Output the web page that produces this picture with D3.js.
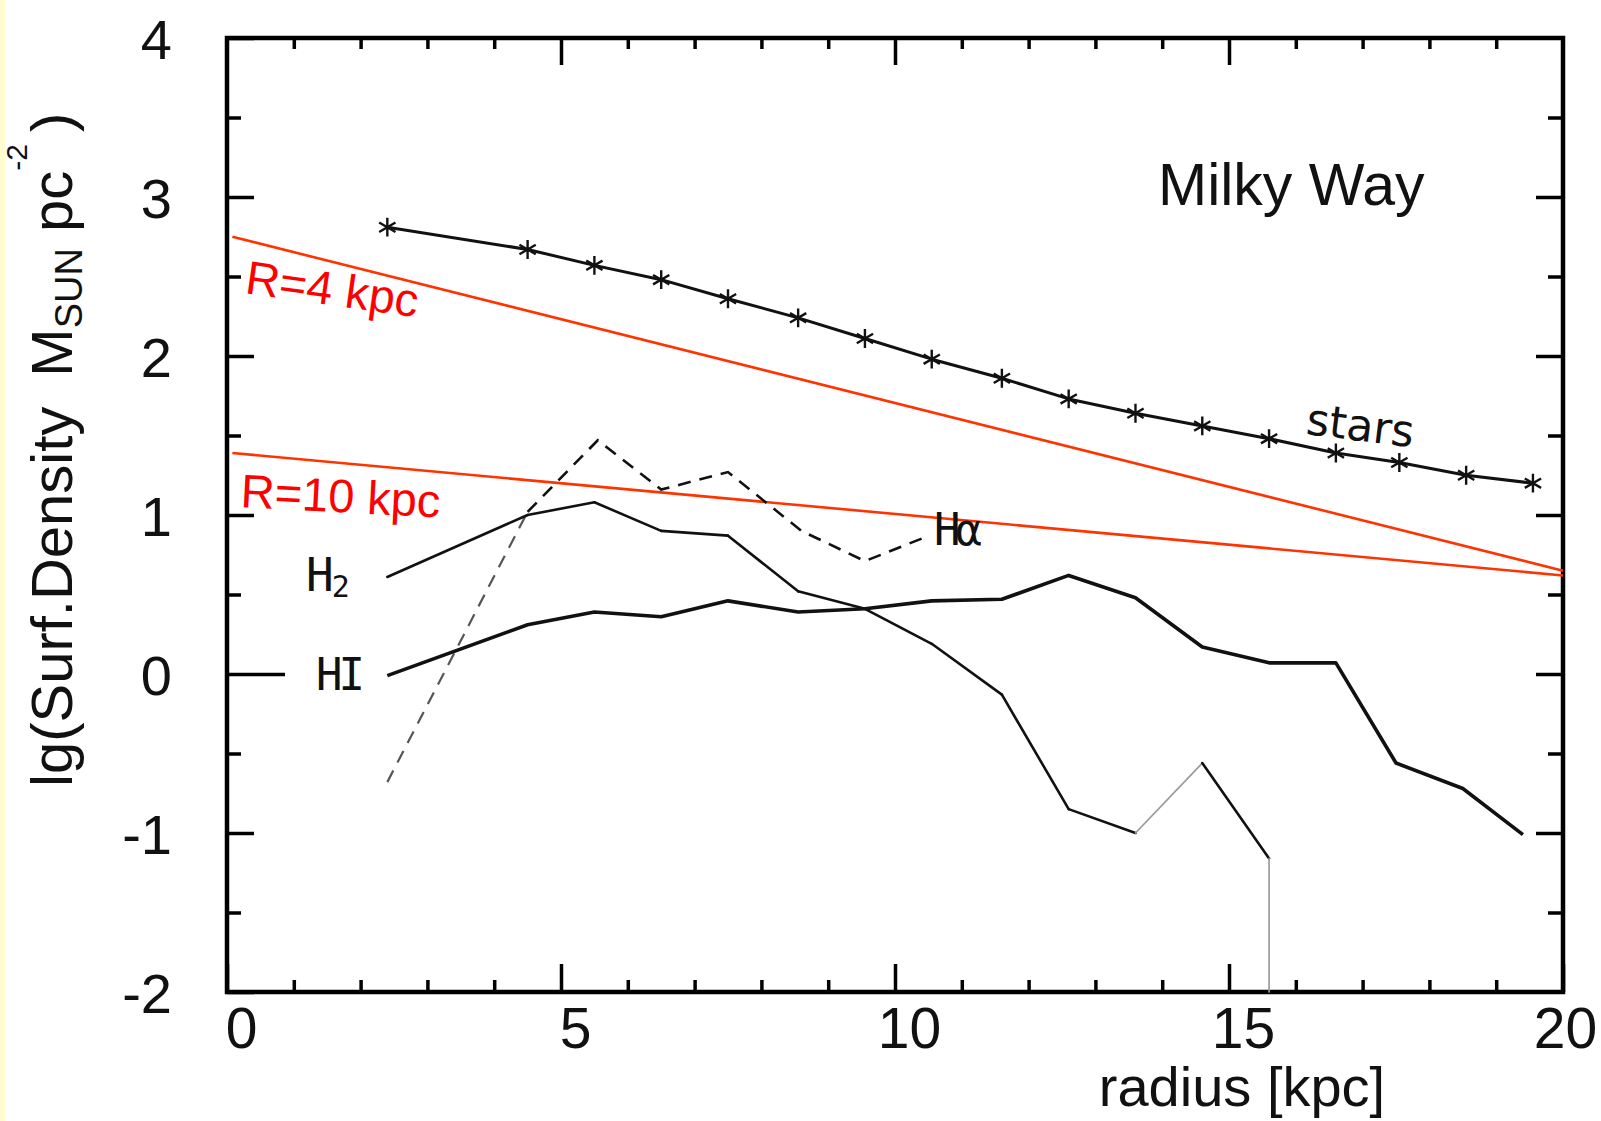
<!DOCTYPE html>
<html>
<head>
<meta charset="utf-8">
<script src="https://cdn.jsdelivr.net/npm/d3@7"></script>
<style>
  html, body { margin: 0; padding: 0; background: #ffffff; }
  svg { display: block; }
</style>
</head>
<body>
<svg id="chart" width="1601" height="1121"></svg>
<script>
// ---------------- data ----------------
const radius      = [2.4, 4.5, 5.5, 6.5, 7.5, 8.55, 9.55, 10.55, 11.6, 12.6, 13.6, 14.6, 15.6, 16.6, 17.55, 18.55, 19.55];
const starsLg     = [2.81, 2.67, 2.57, 2.48, 2.36, 2.24, 2.11, 1.98, 1.86, 1.73, 1.64, 1.56, 1.48, 1.39, 1.33, 1.25, 1.20];
const hiRadius    = [2.4, 4.5, 5.5, 6.5, 7.5, 8.55, 9.55, 10.55, 11.6, 12.6, 13.6, 14.6, 15.6, 16.6, 17.5, 18.5, 19.4];
const hiLg        = [-0.01, 0.31, 0.39, 0.36, 0.46, 0.39, 0.41, 0.46, 0.47, 0.62, 0.48, 0.17, 0.07, 0.07, -0.56, -0.72, -1.01];
const h2Radius    = [2.4, 4.5, 5.5, 6.5, 7.5, 8.55, 9.55, 10.55, 11.6, 12.6, 13.6, 14.6, 15.6, 15.6];
const h2Lg        = [0.61, 1.00, 1.08, 0.90, 0.87, 0.52, 0.41, 0.19, -0.13, -0.85, -1.00, -0.56, -1.16, -2.0];
const haRadius    = [2.4, 4.5, 5.55, 6.5, 7.5, 8.6, 9.55, 10.45];
const haLg        = [-0.68, 1.02, 1.47, 1.16, 1.27, 0.90, 0.71, 0.86];
const modelRadius = [0.08, 20];
const modelR4     = [2.75, 0.65];
const modelR10    = [1.39, 0.62];

const xMajor = [0, 5, 10, 15, 20];
const xMinor = [1, 2, 3, 4, 6, 7, 8, 9, 11, 12, 13, 14, 16, 17, 18, 19];
const yMajor = [-2, -1, 0, 1, 2, 3, 4];
const yMinor = [-1.5, -0.5, 0.5, 1.5, 2.5, 3.5];

// ---------------- setup ----------------
const svg = d3.select("#chart");
const FONT = "'Liberation Sans', Arial, Helvetica, sans-serif";
const HAND = "'DejaVu Sans Mono', monospace";

svg.append("rect").attr("x", 0).attr("y", 0).attr("width", 1601).attr("height", 1121).attr("fill", "#ffffff");
svg.append("rect").attr("x", 0).attr("y", 0).attr("width", 5).attr("height", 1121).attr("fill", "#fdfdcf");

const x = d3.scaleLinear().domain([0, 20]).range([227, 1563]);
const y = d3.scaleLinear().domain([-2, 4]).range([992, 38]);

const line = d3.line().x(d => x(d[0])).y(d => y(d[1]));
const zip = (a, b) => a.map((v, i) => [v, b[i]]);

// ---------------- axes ----------------
function styleAxis(g, width) {
  g.select(".domain").remove();
  g.selectAll(".tick line").attr("stroke", "#000").attr("stroke-width", width);
  g.selectAll("text").attr("font-family", FONT).attr("fill", "#111");
}

// left
const gLeft = svg.append("g").attr("transform", `translate(${x(0)},0)`)
  .call(d3.axisLeft(y).tickValues(yMajor).tickSizeInner(-27).tickSizeOuter(0).tickPadding(55)
        .tickFormat(d => String(d)));
styleAxis(gLeft, 3.5);
gLeft.selectAll("text").attr("font-size", 56).attr("dy", "0.36em");
gLeft.selectAll(".tick").filter(d => d === 0).select("line").attr("x2", 58);
const gLeftMinor = svg.append("g").attr("transform", `translate(${x(0)},0)`)
  .call(d3.axisLeft(y).tickValues(yMinor).tickSizeInner(-14).tickSizeOuter(0).tickFormat(""));
styleAxis(gLeftMinor, 3.5);

// right
const gRight = svg.append("g").attr("transform", `translate(${x(20)},0)`)
  .call(d3.axisRight(y).tickValues(yMajor.slice(1, -1)).tickSizeInner(-27).tickSizeOuter(0).tickFormat(""));
styleAxis(gRight, 3.5);
const gRightMinor = svg.append("g").attr("transform", `translate(${x(20)},0)`)
  .call(d3.axisRight(y).tickValues(yMinor).tickSizeInner(-15).tickSizeOuter(0).tickFormat(""));
styleAxis(gRightMinor, 3.5);

// bottom
const gBottom = svg.append("g").attr("transform", `translate(0,${y(-2)})`)
  .call(d3.axisBottom(x).tickValues(xMajor).tickSizeInner(-28).tickSizeOuter(0).tickPadding(16)
        .tickFormat(d => String(d)));
styleAxis(gBottom, 3.5);
gBottom.selectAll("text").attr("font-size", 57).attr("dx", d => d === 20 ? 2 : 14);
const gBottomMinor = svg.append("g").attr("transform", `translate(0,${y(-2)})`)
  .call(d3.axisBottom(x).tickValues(xMinor).tickSizeInner(-12).tickSizeOuter(0).tickFormat(""));
styleAxis(gBottomMinor, 3.5);

// top
const gTop = svg.append("g").attr("transform", `translate(0,${y(4)})`)
  .call(d3.axisTop(x).tickValues(xMajor.slice(1, -1)).tickSizeInner(-27).tickSizeOuter(0).tickFormat(""));
styleAxis(gTop, 3.5);
const gTopMinor = svg.append("g").attr("transform", `translate(0,${y(4)})`)
  .call(d3.axisTop(x).tickValues(xMinor).tickSizeInner(-11).tickSizeOuter(0).tickFormat(""));
styleAxis(gTopMinor, 3.5);

// frame
svg.append("rect")
  .attr("x", x(0)).attr("y", y(4))
  .attr("width", x(20) - x(0)).attr("height", y(-2) - y(4))
  .attr("fill", "none").attr("stroke", "#000").attr("stroke-width", 4.5);

// ---------------- model lines (red) ----------------
svg.append("path").datum(zip(modelRadius, modelR4)).attr("d", line)
  .attr("fill", "none").attr("stroke", "#ff3300").attr("stroke-width", 2.6);
svg.append("path").datum(zip(modelRadius, modelR10)).attr("d", line)
  .attr("fill", "none").attr("stroke", "#ff3300").attr("stroke-width", 2.6);

// ---------------- H-alpha (dashed) ----------------
const haPts = zip(haRadius, haLg);
svg.append("path").datum(haPts.slice(0, 2)).attr("d", line)
  .attr("fill", "none").attr("stroke", "#555").attr("stroke-width", 2.2)
  .attr("stroke-dasharray", "13,9");
svg.append("path").datum(haPts.slice(1)).attr("d", line)
  .attr("fill", "none").attr("stroke", "#111").attr("stroke-width", 2.6)
  .attr("stroke-dasharray", "13,9");

// ---------------- H2 ----------------
const h2Pts = zip(h2Radius, h2Lg);
const lightSeg = new Set([10, 12]);
for (let i = 0; i < h2Pts.length - 1; i++) {
  svg.append("path").datum([h2Pts[i], h2Pts[i + 1]]).attr("d", line)
    .attr("fill", "none")
    .attr("stroke", lightSeg.has(i) ? "#9a9a9a" : "#111")
    .attr("stroke-width", lightSeg.has(i) ? 1.7 : 2.6)
    .attr("stroke-linecap", "round");
}

// ---------------- HI ----------------
svg.append("path").datum(zip(hiRadius, hiLg)).attr("d", line)
  .attr("fill", "none").attr("stroke", "#111").attr("stroke-width", 3.6)
  .attr("stroke-linejoin", "round");

// ---------------- stars ----------------
const starPts = zip(radius, starsLg);
svg.append("path").datum(starPts).attr("d", line)
  .attr("fill", "none").attr("stroke", "#111").attr("stroke-width", 3)
  .attr("stroke-linejoin", "round");
svg.selectAll("path.star").data(starPts).join("path")
  .attr("class", "star")
  .attr("transform", d => `translate(${x(d[0])},${y(d[1])})`)
  .attr("d", d3.symbol(d3.symbolAsterisk, 250))
  .attr("fill", "none").attr("stroke", "#111").attr("stroke-width", 2.4);

// ---------------- labels ----------------
svg.append("text").attr("x", 1158).attr("y", 205)
  .attr("font-family", FONT).attr("font-size", 59).attr("fill", "#111").text("Milky Way");

svg.append("text").attr("transform", "translate(1305,434) rotate(7)")
  .attr("font-family", "'DejaVu Sans', sans-serif").attr("font-size", 44).attr("fill", "#111")
  .text("stars");

const h2Label = svg.append("text").attr("x", 306).attr("y", 591)
  .attr("font-family", HAND).attr("font-size", 46).attr("fill", "#111");
h2Label.append("tspan").text("H");
h2Label.append("tspan").attr("font-size", 30).attr("dy", 6).attr("dx", -2).text("2");

svg.append("text").attr("x", 316).attr("y", 690)
  .attr("font-family", HAND).attr("font-size", 44).attr("fill", "#111")
  .attr("letter-spacing", -4).text("HI");

svg.append("text").attr("x", 934).attr("y", 545)
  .attr("font-family", HAND).attr("font-size", 44).attr("fill", "#111")
  .attr("letter-spacing", -5).text("Hα");

svg.append("text").attr("transform", "translate(244,293) rotate(8)")
  .attr("font-family", FONT).attr("font-size", 47).attr("fill", "#ff0000").text("R=4 kpc");
svg.append("text").attr("transform", "translate(240,507) rotate(3)")
  .attr("font-family", FONT).attr("font-size", 47).attr("fill", "#ff0000").text("R=10 kpc");

// axis titles
svg.append("text").attr("x", 1242).attr("y", 1106).attr("text-anchor", "middle")
  .attr("font-family", FONT).attr("font-size", 56).attr("fill", "#111").text("radius [kpc]");

const yt = svg.append("text").attr("transform", "translate(72,787) rotate(-90)")
  .attr("font-family", FONT).attr("font-size", 58).attr("fill", "#111");
yt.append("tspan").text("lg(Surf.Density");
yt.append("tspan").attr("dx", 30).text("M");
yt.append("tspan").attr("font-size", 38).attr("dy", 10).text("SUN");
yt.append("tspan").attr("dy", -10).text(" pc");
yt.append("tspan").attr("font-size", 30).attr("dy", -45).text("-2");
yt.append("tspan").attr("dy", 45).attr("dx", 12).text(")");
</script>
</body>
</html>
